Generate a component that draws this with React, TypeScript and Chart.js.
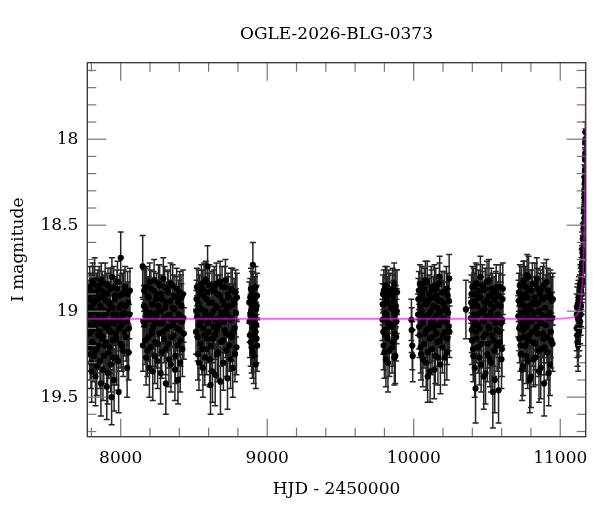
import React, { useEffect, useRef } from 'react'
import { Chart, registerables } from 'chart.js'

Chart.register(...registerables)

// Photometry: [HJD - 2450000, I mag, error]
const season1 = [
  [7781, 19.08, 0.12], [7784, 18.93, 0.11], [7787, 19.21, 0.14], [7790, 19.02, 0.12], [7793, 18.88, 0.1],
  [7797, 19.3, 0.15], [7800, 19.12, 0.13], [7803, 18.97, 0.11], [7806, 19.18, 0.14], [7810, 18.84, 0.1],
  [7813, 19.05, 0.12], [7817, 19.26, 0.15], [7820, 18.95, 0.11], [7824, 19.1, 0.13], [7828, 19.38, 0.17],
  [7831, 18.9, 0.1], [7835, 19.01, 0.12], [7839, 19.22, 0.14], [7843, 18.86, 0.1], [7847, 19.14, 0.13],
  [7851, 19.04, 0.12], [7855, 18.92, 0.11], [7859, 19.29, 0.16], [7863, 19.07, 0.12], [7867, 18.82, 0.1],
  [7871, 19.16, 0.13], [7875, 18.99, 0.11], [7879, 19.34, 0.18], [7883, 19.03, 0.12], [7887, 18.89, 0.1],
  [7892, 19.2, 0.14], [7896, 19.09, 0.12], [7900, 18.94, 0.11], [7905, 19.44, 0.19], [7909, 19.0, 0.12],
  [7913, 18.85, 0.1], [7918, 19.24, 0.15], [7922, 19.11, 0.13], [7927, 18.96, 0.11], [7931, 19.31, 0.16],
  [7936, 19.06, 0.12], [7940, 18.8, 0.11], [7945, 19.17, 0.14], [7950, 19.02, 0.12], [7955, 19.4, 0.18],
  [7960, 18.91, 0.11], [7965, 19.13, 0.13], [7970, 19.27, 0.16], [7975, 18.87, 0.11], [7980, 19.05, 0.12],
  [7986, 19.47, 0.12], [7991, 18.98, 0.12], [7996, 19.19, 0.14], [8000, 18.69, 0.15], [8005, 19.08, 0.13],
  [8011, 18.9, 0.12], [8017, 19.23, 0.15], [8023, 19.01, 0.13], [8030, 18.86, 0.12], [8037, 19.15, 0.14],
  [8044, 19.33, 0.17], [8050, 18.95, 0.12], [8057, 19.1, 0.14], [8063, 18.88, 0.13],
  [7782, 18.98, 0.13], [7786, 19.13, 0.13], [7789, 18.86, 0.12], [7792, 19.25, 0.15], [7795, 19.04, 0.12],
  [7799, 18.9, 0.11], [7802, 19.35, 0.18], [7805, 19.0, 0.12], [7808, 18.83, 0.11], [7812, 19.19, 0.14],
  [7815, 18.94, 0.12], [7819, 19.09, 0.13], [7822, 18.81, 0.12], [7826, 19.23, 0.15], [7830, 19.06, 0.12],
  [7833, 18.89, 0.11], [7837, 19.32, 0.17], [7841, 19.0, 0.12], [7845, 18.93, 0.12], [7849, 19.2, 0.14],
  [7853, 18.85, 0.11], [7857, 19.12, 0.13], [7861, 18.97, 0.12], [7865, 19.42, 0.19], [7869, 19.03, 0.12],
  [7873, 18.88, 0.11], [7877, 19.15, 0.14], [7881, 18.92, 0.12], [7885, 19.26, 0.16], [7890, 19.05, 0.12],
  [7894, 18.84, 0.12], [7898, 19.18, 0.14], [7903, 19.01, 0.12], [7907, 18.9, 0.12], [7911, 19.36, 0.18],
  [7916, 19.08, 0.13], [7920, 18.95, 0.12], [7925, 19.21, 0.15], [7929, 18.87, 0.12], [7934, 19.12, 0.13],
  [7938, 19.5, 0.16], [7943, 18.98, 0.12], [7948, 19.27, 0.16], [7952, 18.86, 0.12], [7958, 19.07, 0.13],
  [7962, 18.93, 0.12], [7968, 19.16, 0.14], [7972, 19.02, 0.13], [7978, 18.83, 0.12], [7983, 19.29, 0.17],
  [7988, 19.1, 0.13], [7994, 18.91, 0.12], [7998, 19.05, 0.13], [8003, 18.96, 0.13], [8008, 19.2, 0.15],
  [8014, 19.02, 0.13], [8020, 18.89, 0.13], [8027, 19.12, 0.14], [8034, 18.97, 0.13], [8041, 19.06, 0.14],
  [8047, 18.9, 0.13], [8054, 19.24, 0.16], [8060, 19.02, 0.14],
]
const season2 = [
  [8150, 18.74, 0.18], [8152, 19.2, 0.15], [8158, 18.97, 0.12], [8163, 19.08, 0.13], [8168, 18.86, 0.11],
  [8173, 19.27, 0.16], [8178, 19.02, 0.12], [8183, 18.91, 0.11], [8188, 19.15, 0.14], [8193, 19.04, 0.12],
  [8198, 18.83, 0.11], [8204, 19.21, 0.15], [8209, 18.96, 0.12], [8214, 19.11, 0.13], [8219, 19.35, 0.17],
  [8225, 18.88, 0.11], [8230, 19.06, 0.12], [8236, 19.18, 0.14], [8241, 18.93, 0.11], [8247, 19.01, 0.12],
  [8252, 19.29, 0.16], [8258, 18.84, 0.11], [8263, 19.13, 0.13], [8269, 19.0, 0.12], [8275, 18.9, 0.11],
  [8280, 19.24, 0.15], [8286, 19.07, 0.12], [8291, 18.81, 0.12], [8297, 19.16, 0.14], [8303, 18.98, 0.12],
  [8308, 19.42, 0.18], [8314, 19.03, 0.12], [8320, 18.87, 0.11], [8326, 19.19, 0.14], [8331, 19.09, 0.13],
  [8337, 18.94, 0.12], [8343, 19.31, 0.16], [8349, 19.05, 0.12], [8355, 18.85, 0.12], [8361, 19.14, 0.14],
  [8367, 18.99, 0.12], [8373, 19.26, 0.16], [8379, 18.92, 0.12], [8385, 19.1, 0.13], [8391, 19.4, 0.14],
  [8397, 19.02, 0.13], [8403, 18.89, 0.12], [8409, 19.17, 0.15], [8415, 18.97, 0.13], [8421, 19.22, 0.16],
  [8428, 19.04, 0.14],
  [8155, 19.06, 0.13], [8160, 18.88, 0.12], [8166, 19.17, 0.14], [8171, 18.99, 0.12], [8176, 18.86, 0.12],
  [8181, 19.23, 0.15], [8186, 19.05, 0.12], [8191, 18.92, 0.12], [8196, 19.33, 0.17], [8201, 19.01, 0.12],
  [8206, 18.87, 0.11], [8212, 19.13, 0.13], [8217, 18.96, 0.12], [8222, 19.09, 0.13], [8228, 18.82, 0.12],
  [8233, 19.26, 0.16], [8239, 19.03, 0.12], [8244, 18.9, 0.12], [8250, 19.19, 0.14], [8255, 18.97, 0.12],
  [8261, 19.07, 0.13], [8266, 18.85, 0.12], [8272, 19.36, 0.18], [8278, 19.0, 0.12], [8283, 18.93, 0.12],
  [8289, 19.12, 0.14], [8294, 19.04, 0.12], [8300, 18.86, 0.12], [8306, 19.22, 0.15], [8311, 18.95, 0.12],
  [8317, 19.1, 0.13], [8323, 18.89, 0.12], [8329, 19.28, 0.16], [8334, 19.02, 0.12], [8340, 18.84, 0.12],
  [8346, 19.15, 0.14], [8352, 18.98, 0.12], [8358, 19.08, 0.13], [8364, 18.91, 0.12], [8370, 19.34, 0.18],
  [8376, 19.05, 0.13], [8382, 18.87, 0.12], [8388, 19.2, 0.15], [8394, 18.95, 0.13], [8400, 19.11, 0.14],
  [8406, 19.3, 0.17], [8412, 18.92, 0.13], [8418, 19.06, 0.14], [8425, 18.9, 0.14], [8431, 19.13, 0.15],
]
const season3 = [
  [8514, 19.12, 0.13], [8518, 18.93, 0.11], [8522, 19.03, 0.12], [8527, 19.25, 0.15], [8531, 18.87, 0.11],
  [8536, 19.08, 0.12], [8541, 18.98, 0.12], [8546, 19.19, 0.14], [8551, 18.84, 0.11], [8556, 19.05, 0.12],
  [8561, 19.33, 0.17], [8566, 18.91, 0.11], [8571, 19.14, 0.13], [8576, 19.0, 0.12], [8581, 18.82, 0.11],
  [8586, 19.22, 0.15], [8593, 18.74, 0.12], [8597, 19.07, 0.12], [8602, 18.95, 0.11], [8607, 19.28, 0.16],
  [8613, 19.43, 0.17], [8618, 19.02, 0.12], [8623, 18.88, 0.11], [8628, 19.16, 0.14], [8634, 19.09, 0.13],
  [8639, 18.85, 0.11], [8645, 19.37, 0.18], [8650, 18.97, 0.12], [8656, 19.11, 0.13], [8661, 18.9, 0.11],
  [8667, 19.24, 0.15], [8672, 19.04, 0.12], [8678, 18.83, 0.12], [8684, 19.18, 0.14], [8689, 19.01, 0.12],
  [8695, 18.94, 0.12], [8701, 19.3, 0.16], [8706, 19.06, 0.12], [8712, 18.86, 0.12], [8718, 19.13, 0.14],
  [8723, 18.99, 0.12], [8729, 19.39, 0.18], [8735, 18.92, 0.12], [8741, 19.2, 0.15], [8747, 19.05, 0.13],
  [8753, 18.87, 0.12], [8759, 19.15, 0.14], [8765, 19.33, 0.17], [8771, 18.96, 0.12], [8777, 19.1, 0.14],
  [8784, 18.89, 0.13], [8790, 19.21, 0.16],
  [8516, 19.0, 0.12], [8520, 18.86, 0.11], [8525, 19.15, 0.14], [8529, 18.96, 0.12], [8534, 19.3, 0.16],
  [8539, 18.9, 0.11], [8544, 19.06, 0.12], [8549, 18.99, 0.12], [8554, 19.22, 0.15], [8559, 18.87, 0.11],
  [8564, 19.1, 0.13], [8569, 18.83, 0.11], [8574, 19.27, 0.16], [8579, 19.02, 0.12], [8584, 18.93, 0.12],
  [8589, 19.16, 0.14], [8595, 18.89, 0.11], [8600, 19.12, 0.13], [8605, 18.85, 0.12], [8610, 19.04, 0.12],
  [8616, 19.2, 0.15], [8621, 18.95, 0.12], [8626, 19.35, 0.18], [8631, 19.0, 0.12], [8637, 18.88, 0.12],
  [8642, 19.14, 0.14], [8648, 19.05, 0.12], [8653, 18.84, 0.12], [8659, 19.25, 0.16], [8664, 18.98, 0.12],
  [8670, 19.08, 0.13], [8675, 18.91, 0.12], [8681, 19.41, 0.19], [8687, 19.03, 0.12], [8692, 18.86, 0.12],
  [8698, 19.17, 0.14], [8703, 18.96, 0.12], [8709, 19.11, 0.13], [8715, 18.82, 0.12], [8720, 19.23, 0.15],
  [8726, 19.02, 0.12], [8732, 18.9, 0.12], [8738, 19.14, 0.14], [8744, 18.97, 0.13], [8750, 19.28, 0.17],
  [8756, 19.04, 0.13], [8762, 18.88, 0.13], [8768, 19.12, 0.14], [8774, 18.94, 0.13], [8780, 19.25, 0.16],
  [8787, 19.01, 0.14], [8793, 18.92, 0.14],
]
const season4 = [
  [8880, 19.06, 0.12], [8884, 18.92, 0.11], [8887, 19.18, 0.14], [8891, 19.0, 0.12], [8895, 18.88, 0.11],
  [8899, 19.24, 0.15], [8902, 18.73, 0.13], [8906, 19.1, 0.13], [8909, 18.95, 0.12], [8913, 19.15, 0.14],
  [8917, 19.03, 0.12], [8920, 18.86, 0.12], [8922, 19.31, 0.14], [8925, 19.08, 0.13], [8928, 18.97, 0.12],
  [8931, 19.2, 0.15],
  [8878, 18.95, 0.12], [8882, 19.14, 0.13], [8886, 19.02, 0.12], [8889, 18.87, 0.12], [8893, 19.21, 0.15],
  [8897, 18.98, 0.12], [8901, 19.07, 0.13], [8904, 18.9, 0.12], [8908, 19.26, 0.16], [8911, 19.04, 0.12],
  [8915, 18.92, 0.12], [8919, 19.12, 0.14], [8924, 18.99, 0.13], [8927, 19.16, 0.14], [8930, 18.91, 0.13],
]
const season5 = [
  [9787, 19.05, 0.12], [9790, 18.9, 0.11], [9794, 19.2, 0.14], [9798, 18.96, 0.12], [9802, 19.11, 0.13],
  [9806, 18.85, 0.11], [9810, 19.28, 0.16], [9814, 19.02, 0.12], [9818, 18.93, 0.12], [9822, 19.16, 0.14],
  [9826, 19.07, 0.12], [9830, 18.88, 0.12], [9834, 19.23, 0.15], [9850, 19.09, 0.13], [9854, 18.91, 0.12],
  [9858, 19.18, 0.14], [9862, 19.0, 0.12], [9866, 18.84, 0.12], [9870, 19.13, 0.14], [9874, 19.26, 0.16],
  [9878, 18.97, 0.12], [9882, 19.06, 0.13], [9886, 18.89, 0.13],
  [9788, 18.96, 0.12], [9792, 19.12, 0.13], [9796, 18.88, 0.12], [9800, 19.24, 0.15], [9804, 19.01, 0.12],
  [9808, 18.92, 0.12], [9812, 19.14, 0.14], [9816, 18.86, 0.12], [9820, 19.05, 0.12], [9824, 19.3, 0.17],
  [9828, 18.95, 0.12], [9832, 19.09, 0.13], [9836, 18.9, 0.12], [9848, 18.98, 0.12], [9852, 19.21, 0.15],
  [9856, 18.87, 0.12], [9860, 19.08, 0.13], [9864, 18.94, 0.12], [9868, 19.27, 0.16], [9872, 19.02, 0.12],
  [9876, 18.88, 0.12], [9880, 19.15, 0.14], [9884, 19.0, 0.13],
]
const season6 = [
  [9984, 19.05, 0.12], [9986, 19.11, 0.13], [9990, 19.2, 0.14], [9993, 19.26, 0.15],
  [10030, 19.02, 0.12], [10035, 18.88, 0.11], [10040, 19.14, 0.13], [10045, 18.97, 0.12], [10050, 19.25, 0.15],
  [10055, 18.85, 0.11], [10060, 19.07, 0.12], [10065, 18.93, 0.12], [10070, 19.19, 0.14], [10075, 19.03, 0.12],
  [10080, 18.82, 0.11], [10085, 19.3, 0.16], [10090, 18.95, 0.12], [10095, 19.38, 0.15], [10100, 19.1, 0.13],
  [10105, 18.9, 0.11], [10110, 19.16, 0.14], [10115, 19.0, 0.12], [10120, 18.86, 0.12], [10125, 19.22, 0.15],
  [10130, 19.05, 0.12], [10135, 18.92, 0.12], [10140, 19.34, 0.17], [10145, 19.08, 0.13], [10150, 18.87, 0.12],
  [10155, 19.13, 0.14], [10160, 18.98, 0.12], [10165, 19.27, 0.16], [10170, 19.01, 0.12], [10175, 18.84, 0.12],
  [10180, 19.17, 0.14], [10185, 19.06, 0.13], [10190, 18.94, 0.12], [10196, 19.21, 0.15], [10202, 19.04, 0.13],
  [10208, 18.89, 0.12], [10214, 19.12, 0.14], [10220, 18.99, 0.13], [10226, 19.24, 0.16], [10232, 18.91, 0.13],
  [10238, 19.09, 0.14], [10242, 18.81, 0.14],
  [10032, 18.93, 0.12], [10037, 19.09, 0.13], [10042, 18.84, 0.11], [10047, 19.21, 0.15], [10052, 19.0, 0.12],
  [10057, 18.9, 0.12], [10062, 19.28, 0.16], [10067, 19.04, 0.12], [10072, 18.87, 0.12], [10077, 19.13, 0.14],
  [10082, 18.96, 0.12], [10087, 19.11, 0.13], [10092, 18.83, 0.12], [10097, 19.24, 0.15], [10102, 19.02, 0.12],
  [10107, 18.93, 0.12], [10112, 19.35, 0.18], [10117, 19.07, 0.12], [10122, 18.88, 0.12], [10127, 19.15, 0.14],
  [10132, 18.97, 0.12], [10137, 19.1, 0.13], [10142, 18.85, 0.12], [10147, 19.26, 0.16], [10152, 19.03, 0.12],
  [10157, 18.91, 0.12], [10162, 19.18, 0.14], [10167, 18.94, 0.12], [10172, 19.08, 0.13], [10177, 18.8, 0.12],
  [10182, 19.31, 0.17], [10187, 19.0, 0.12], [10193, 18.89, 0.12], [10199, 19.14, 0.14], [10205, 18.96, 0.13],
  [10211, 19.27, 0.16], [10217, 19.06, 0.13], [10223, 18.87, 0.13], [10229, 19.16, 0.15], [10235, 19.01, 0.14],
  [10240, 18.94, 0.14], [10244, 19.12, 0.15],
  [10356, 18.99, 0.17],
]
const season7 = [
  [10390, 19.04, 0.12], [10394, 18.9, 0.11], [10398, 19.17, 0.14], [10402, 18.97, 0.12], [10406, 19.26, 0.15],
  [10410, 18.86, 0.11], [10414, 19.08, 0.12], [10418, 18.94, 0.12], [10422, 19.45, 0.2], [10426, 19.12, 0.13],
  [10430, 18.84, 0.11], [10435, 19.02, 0.12], [10440, 19.21, 0.15], [10445, 18.92, 0.11], [10450, 19.1, 0.13],
  [10455, 18.8, 0.12], [10460, 19.31, 0.16], [10465, 19.0, 0.12], [10470, 18.88, 0.11], [10475, 19.15, 0.14],
  [10480, 19.06, 0.12], [10485, 18.95, 0.12], [10490, 19.36, 0.18], [10495, 19.03, 0.12], [10500, 18.83, 0.12],
  [10505, 19.19, 0.14], [10510, 19.09, 0.13], [10515, 18.91, 0.12], [10520, 19.28, 0.16], [10525, 19.01, 0.12],
  [10530, 18.87, 0.12], [10535, 19.14, 0.14], [10540, 19.47, 0.21], [10545, 18.98, 0.12], [10550, 19.23, 0.15],
  [10555, 19.05, 0.13], [10560, 18.89, 0.12], [10566, 19.11, 0.14], [10572, 18.96, 0.13], [10579, 19.46, 0.19],
  [10584, 19.18, 0.15], [10590, 18.86, 0.13], [10596, 19.07, 0.14], [10602, 19.22, 0.16], [10606, 18.93, 0.14],
  [10392, 18.95, 0.12], [10396, 19.11, 0.13], [10400, 18.86, 0.12], [10404, 19.22, 0.15], [10408, 19.02, 0.12],
  [10412, 18.9, 0.12], [10416, 19.33, 0.17], [10420, 19.05, 0.12], [10424, 18.84, 0.12], [10428, 19.16, 0.14],
  [10433, 18.97, 0.12], [10438, 19.08, 0.13], [10443, 18.88, 0.12], [10448, 19.27, 0.16], [10453, 19.01, 0.12],
  [10458, 18.92, 0.12], [10463, 19.19, 0.14], [10468, 18.85, 0.12], [10473, 19.06, 0.12], [10478, 19.38, 0.19],
  [10483, 18.99, 0.12], [10488, 18.87, 0.12], [10493, 19.13, 0.14], [10498, 18.94, 0.12], [10503, 19.25, 0.16],
  [10508, 19.03, 0.12], [10513, 18.82, 0.12], [10518, 19.1, 0.13], [10523, 18.96, 0.12], [10528, 19.3, 0.17],
  [10533, 19.04, 0.13], [10538, 18.9, 0.12], [10543, 19.17, 0.15], [10548, 18.93, 0.13], [10553, 19.4, 0.19],
  [10558, 19.07, 0.13], [10563, 18.86, 0.13], [10569, 19.2, 0.15], [10575, 19.02, 0.13], [10581, 18.91, 0.13],
  [10587, 19.12, 0.15], [10593, 18.97, 0.14], [10599, 19.28, 0.17], [10604, 19.05, 0.15], [10608, 18.87, 0.15],
]
const season8 = [
  [10714, 19.03, 0.12], [10718, 18.89, 0.11], [10722, 19.16, 0.14], [10726, 18.96, 0.12], [10730, 19.25, 0.15],
  [10734, 18.85, 0.11], [10738, 19.07, 0.12], [10742, 18.93, 0.12], [10746, 19.32, 0.17], [10750, 19.11, 0.13],
  [10754, 18.82, 0.11], [10758, 19.0, 0.12], [10762, 19.2, 0.15], [10766, 18.9, 0.11], [10770, 19.09, 0.13],
  [10774, 18.79, 0.12], [10778, 19.29, 0.16], [10782, 19.04, 0.12], [10786, 18.87, 0.11], [10790, 19.14, 0.14],
  [10795, 18.97, 0.12], [10800, 19.38, 0.18], [10805, 19.06, 0.12], [10810, 18.84, 0.12], [10815, 19.18, 0.14],
  [10820, 19.01, 0.12], [10825, 18.92, 0.12], [10830, 19.27, 0.16], [10835, 19.1, 0.13], [10840, 18.81, 0.12],
  [10845, 19.13, 0.14], [10850, 18.95, 0.12], [10855, 19.35, 0.18], [10860, 19.05, 0.12], [10865, 18.88, 0.12],
  [10870, 19.22, 0.15], [10875, 19.02, 0.13], [10880, 18.86, 0.12], [10885, 19.16, 0.14], [10890, 19.42, 0.19],
  [10895, 18.98, 0.13], [10900, 19.08, 0.14], [10906, 18.83, 0.13], [10912, 19.24, 0.16], [10918, 19.04, 0.14],
  [10924, 18.91, 0.13], [10930, 19.31, 0.18], [10936, 19.12, 0.15], [10942, 18.94, 0.14], [10947, 19.19, 0.16],
  [10716, 18.94, 0.12], [10720, 19.1, 0.13], [10724, 18.85, 0.12], [10728, 19.2, 0.15], [10732, 19.01, 0.12],
  [10736, 18.91, 0.12], [10740, 19.34, 0.18], [10744, 19.05, 0.12], [10748, 18.83, 0.12], [10752, 19.15, 0.14],
  [10756, 18.97, 0.12], [10760, 19.08, 0.13], [10764, 18.86, 0.12], [10768, 19.26, 0.16], [10772, 19.02, 0.12],
  [10776, 18.92, 0.12], [10780, 19.17, 0.14], [10784, 18.8, 0.12], [10788, 19.06, 0.13], [10792, 19.4, 0.19],
  [10797, 18.99, 0.12], [10802, 18.88, 0.12], [10807, 19.12, 0.14], [10812, 18.95, 0.12], [10817, 19.28, 0.16],
  [10822, 19.04, 0.12], [10827, 18.84, 0.12], [10832, 19.19, 0.15], [10837, 18.96, 0.12], [10842, 19.09, 0.13],
  [10847, 18.87, 0.12], [10852, 19.23, 0.15], [10857, 19.0, 0.12], [10862, 18.9, 0.12], [10867, 19.33, 0.18],
  [10872, 19.07, 0.13], [10877, 18.93, 0.12], [10882, 19.13, 0.14], [10887, 18.85, 0.13], [10892, 19.21, 0.16],
  [10897, 19.03, 0.13], [10903, 18.92, 0.13], [10909, 19.15, 0.15], [10915, 18.88, 0.13], [10921, 19.36, 0.19],
  [10927, 19.01, 0.14], [10933, 18.9, 0.14], [10939, 19.17, 0.16], [10945, 19.04, 0.15], [10949, 18.93, 0.15],
]
const season9 = [
  [11112, 19.1, 0.13], [11115, 18.98, 0.12], [11118, 19.18, 0.14], [11121, 19.04, 0.12], [11124, 18.94, 0.12],
  [11127, 19.12, 0.14], [11130, 19.0, 0.12], [11133, 18.9, 0.11], [11136, 19.06, 0.13], [11139, 18.86, 0.11],
  [11142, 18.97, 0.12], [11145, 18.8, 0.11], [11147, 18.9, 0.12], [11149, 18.72, 0.1], [11151, 18.82, 0.11],
  [11153, 18.66, 0.1], [11155, 18.74, 0.1], [11157, 18.58, 0.09], [11159, 18.66, 0.1], [11161, 18.5, 0.09],
  [11162, 18.42, 0.08], [11164, 18.46, 0.09], [11165, 18.34, 0.08], [11166, 18.4, 0.08], [11167, 18.26, 0.07],
  [11168, 18.3, 0.08], [11169, 18.18, 0.07], [11170, 18.1, 0.07], [11171, 18.02, 0.06], [11172, 17.96, 0.06],
  [11113, 19.02, 0.12], [11116, 19.14, 0.13], [11119, 18.96, 0.12], [11122, 19.2, 0.15], [11125, 19.03, 0.12],
  [11128, 18.92, 0.12], [11131, 19.1, 0.13], [11134, 18.96, 0.12], [11137, 18.84, 0.11], [11140, 19.02, 0.12],
  [11143, 18.88, 0.11], [11146, 18.74, 0.1], [11148, 18.84, 0.11], [11150, 18.64, 0.1], [11152, 18.76, 0.1],
  [11154, 18.58, 0.09], [11156, 18.68, 0.1], [11158, 18.52, 0.09], [11160, 18.58, 0.09], [11161, 18.4, 0.08],
  [11163, 18.52, 0.09], [11164, 18.3, 0.08], [11166, 18.22, 0.07], [11167, 18.36, 0.08], [11169, 18.12, 0.07],
  [11170, 18.24, 0.08], [11171, 18.08, 0.07], [11172, 18.0, 0.06],
]

// Model light curve
const modelHjd = [7772, 10900, 11060, 11100, 11120, 11131, 11142, 11150, 11156, 11160, 11164, 11167, 11170, 11172, 11173, 11175]
const modelMag = [19.045, 19.045, 19.04, 19.03, 19.015, 18.99, 18.93, 18.86, 18.77, 18.67, 18.52, 18.37, 18.17, 18.06, 17.8, 17.3]

const xMajorTicks = [8000, 9000, 10000, 11000]
const xMinorTicks = [7800, 8200, 8400, 8600, 8800, 9200, 9400, 9600, 9800, 10200, 10400, 10600, 10800]
const yMajorTicks = [18, 18.5, 19, 19.5]
const yMinorTicks = [17.6, 17.7, 17.8, 17.9, 18.1, 18.2, 18.3, 18.4, 18.6, 18.7, 18.8, 18.9, 19.1, 19.2, 19.3, 19.4, 19.6, 19.7]

const FONT = "'DejaVu Serif', serif"

const errorBars = {
  id: 'errorBars',
  beforeDatasetsDraw(chart) {
    const { ctx, chartArea: a, scales } = chart
    const ds = chart.data.datasets[0]
    ctx.save()
    ctx.beginPath()
    ctx.rect(a.left, a.top, a.right - a.left, a.bottom - a.top)
    ctx.clip()
    ctx.strokeStyle = '#242424'
    ctx.lineWidth = 1.5
    ds.data.forEach((p) => {
      const x = scales.x.getPixelForValue(p.x)
      const y1 = scales.y.getPixelForValue(p.y - p.err)
      const y2 = scales.y.getPixelForValue(p.y + p.err)
      ctx.beginPath()
      ctx.moveTo(x, y1)
      ctx.lineTo(x, y2)
      ctx.moveTo(x - 3, y1)
      ctx.lineTo(x + 3, y1)
      ctx.moveTo(x - 3, y2)
      ctx.lineTo(x + 3, y2)
      ctx.stroke()
    })
    ctx.restore()
  },
}

const frameTicks = {
  id: 'frameTicks',
  afterDatasetsDraw(chart) {
    const { ctx, chartArea: a, scales } = chart
    const line = (x1, y1, x2, y2) => {
      ctx.beginPath()
      ctx.moveTo(x1, y1)
      ctx.lineTo(x2, y2)
      ctx.stroke()
    }
    ctx.save()
    ctx.strokeStyle = '#777'
    ctx.lineWidth = 1.2
    const xt = (vals, len) =>
      vals.forEach((v) => {
        const px = scales.x.getPixelForValue(v)
        line(px, a.bottom, px, a.bottom - len)
        line(px, a.top, px, a.top + len)
      })
    const yt = (vals, len) =>
      vals.forEach((v) => {
        const py = scales.y.getPixelForValue(v)
        line(a.left, py, a.left + len, py)
        line(a.right, py, a.right - len, py)
      })
    xt(xMajorTicks, 18)
    xt(xMinorTicks, 9)
    yt(yMajorTicks, 19)
    yt(yMinorTicks, 9)
    ctx.strokeStyle = '#333'
    ctx.lineWidth = 1.3
    ctx.strokeRect(a.left, a.top, a.right - a.left, a.bottom - a.top)
    ctx.fillStyle = '#000'
    ctx.font = `17px ${FONT}`
    ctx.textAlign = 'center'
    ctx.textBaseline = 'middle'
    ctx.fillText('OGLE-2026-BLG-0373', (a.left + a.right) / 2, 35)
    ctx.restore()
  },
}

const toPoints = (rows) => rows.map(([x, y, err]) => ({ x, y, err }))

export default function App() {
  const canvasRef = useRef<HTMLCanvasElement>(null)
  useEffect(() => {
    if (!canvasRef.current) return
    document.body.style.margin = '0'
    const photometry = [
      ...season1, ...season2, ...season3, ...season4, ...season5,
      ...season6, ...season7, ...season8, ...season9,
    ]
    const chart = new Chart(canvasRef.current, {
      type: 'scatter',
      data: {
        datasets: [
          {
            type: 'scatter',
            data: toPoints(photometry),
            backgroundColor: '#000',
            borderColor: '#000',
            pointRadius: 3.1,
            borderWidth: 0,
            order: 2,
          },
          {
            type: 'line',
            data: modelHjd.map((x, i) => ({ x, y: modelMag[i] })),
            borderColor: 'rgba(255,0,255,0.65)',
            borderWidth: 1.6,
            pointRadius: 0,
            tension: 0.4,
            cubicInterpolationMode: 'monotone',
            order: 1,
          },
        ],
      },
      options: {
        responsive: false,
        animation: false,
        layout: { padding: { top: 62.7, right: 14, bottom: 0, left: 0 } },
        plugins: { legend: { display: false }, tooltip: { enabled: false } },
        scales: {
          x: {
            type: 'linear',
            min: 7772,
            max: 11174,
            grid: { display: false, drawTicks: false },
            border: { display: false },
            afterBuildTicks: (s) => {
              s.ticks = xMajorTicks.map((value) => ({ value }))
            },
            afterFit: (s) => {
              s.height = 75.3
            },
            ticks: {
              color: '#000',
              padding: 12,
              maxRotation: 0,
              font: { family: FONT, size: 17 },
              callback: (v) => String(v),
            },
            title: {
              display: true,
              text: 'HJD - 2450000',
              color: '#000',
              font: { family: FONT, size: 17 },
              padding: { top: 0, bottom: 12 },
            },
          },
          y: {
            type: 'linear',
            reverse: true,
            min: 17.555,
            max: 19.73,
            grid: { display: false, drawTicks: false },
            border: { display: false },
            afterBuildTicks: (s) => {
              s.ticks = yMajorTicks.map((value) => ({ value }))
            },
            afterFit: (s) => {
              s.width = 87.3
            },
            ticks: {
              color: '#000',
              padding: 9,
              font: { family: FONT, size: 17 },
              callback: (v) => String(v),
            },
            title: {
              display: true,
              text: 'I magnitude',
              color: '#000',
              font: { family: FONT, size: 17 },
              padding: { top: 8, bottom: 0 },
            },
          },
        },
      },
      plugins: [errorBars, frameTicks],
    })
    return () => chart.destroy()
  }, [])
  return (
    <div style={{ position: 'fixed', left: 0, top: 0, width: 600, height: 512, background: '#fff' }}>
      <canvas ref={canvasRef} width={600} height={512} />
    </div>
  )
}
